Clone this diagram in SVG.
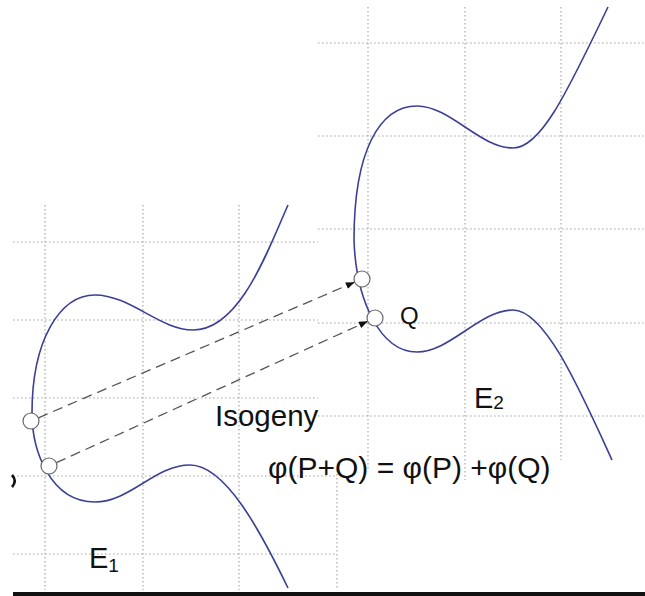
<svg xmlns="http://www.w3.org/2000/svg" width="645" height="596" viewBox="0 0 645 596">
<style>
.grid{stroke:#a8a8a8;stroke-width:1.2;stroke-dasharray:1.6 2.4;fill:none}
.curve{stroke:#3c3f96;stroke-width:1.6;fill:none}
.conn{stroke:#555;stroke-width:1.3;stroke-dasharray:10 6;fill:none}
.pt{fill:#fff;stroke:#666;stroke-width:1.2}
.lbl{font-family:"Liberation Sans",Arial,sans-serif;fill:#111}
</style>
<defs>
<marker id="ah" viewBox="0 0 10 8" refX="10" refY="4" markerWidth="9" markerHeight="7" markerUnits="userSpaceOnUse" orient="auto">
<path d="M0 0 L10 4 L0 8 Z" fill="#111"/>
</marker>
</defs>
<rect width="645" height="596" fill="#fff"/>
<g id="grid-left">
<path class="grid" d="M13 242H318M13 320H318M13 398H318M13 476H337M13 554H337M45 205V590M143 205V590M239 205V590M337 470V590"/>
</g>
<g id="grid-right">
<path class="grid" d="M318 43H645M318 136H645M318 229H645M318 323H645M318 416H645M368 7V470M465 7V480M561 7V460"/>
</g>
<g id="E1-curve">
<path class="curve" d="M288 205 C268 250 240 330 193 330 C160 330 130 295 95 295 C60 295 32 340 32 413 C32 450 50 502 95 502 C130 502 155 465 190 465 C225 465 260 530 288 588"/>
</g>
<g id="E2-curve">
<path class="curve" d="M608 7 C565 97 540 148 513 148 C480 148 450 106 417 106 C380 106 354 150 354 240 C356 300 380 352 417 352 C450 352 480 310 513 310 C545 310 580 390 612 460"/>
</g>
<g id="connectors">
<line class="conn" x1="38.4" y1="417.8" x2="354.6" y2="282.2" marker-end="url(#ah)"/>
<line class="conn" x1="56.3" y1="462.7" x2="367.7" y2="321.3" marker-end="url(#ah)"/>
</g>
<g id="points">
<circle class="pt" cx="31" cy="421" r="8"/>
<circle class="pt" cx="49" cy="466" r="8"/>
<circle class="pt" cx="362" cy="279" r="8"/>
<circle class="pt" cx="375" cy="318" r="8"/>
</g>
<g id="labels">
<text class="lbl" x="215" y="426" font-size="29.5">Isogeny</text>
<text class="lbl" x="268" y="478" font-size="30">φ(P+Q) = φ(P) +φ(Q)</text>
<text class="lbl" x="400" y="324" font-size="24">Q</text>
<text class="lbl" x="474" y="408" font-size="29">E<tspan font-size="19" dy="1">2</tspan></text>
<text class="lbl" x="89" y="568" font-size="29">E<tspan font-size="19" dy="4">1</tspan></text>
</g>
<path d="M12 475 Q17.5 481 12 487" stroke="#111" stroke-width="2.6" fill="none"/>
<rect x="13" y="592" width="632" height="4" fill="#111"/>
</svg>
